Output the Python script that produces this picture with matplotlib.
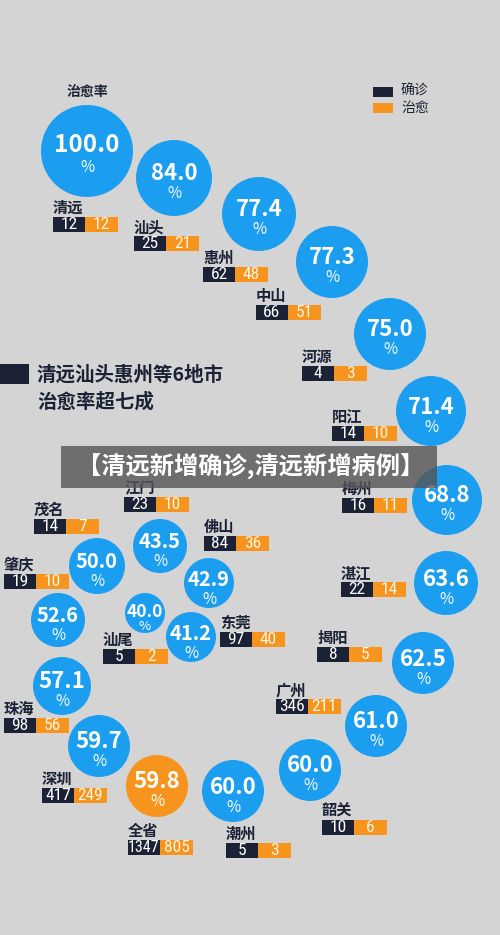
import matplotlib
matplotlib.use("Agg")
import matplotlib.pyplot as plt
from matplotlib import font_manager as fm
from matplotlib.patches import Circle, Rectangle

plt.rcParams['font.family'] = ['Noto Sans CJK SC', 'DejaVu Sans']

# ---------------- DATA ----------------
cities = ["清远", "汕头", "惠州", "中山", "河源", "阳江", "梅州", "湛江", "揭阳", "广州",
          "韶关", "潮州", "全省", "深圳", "珠海", "肇庆", "茂名", "江门", "佛山", "东莞", "汕尾"]
confirmed = [12, 25, 62, 66, 4, 14, 16, 22, 8, 346, 10, 5, 1347, 417, 98, 19, 14, 23, 84, 97, 5]
recovered = [12, 21, 48, 51, 3, 10, 11, 14, 5, 211, 6, 3, 805, 249, 56, 10, 7, 10, 36, 40, 2]
rates = [100.0, 84.0, 77.4, 77.3, 75.0, 71.4, 68.8, 63.6, 62.5, 61.0,
         60.0, 60.0, 59.8, 59.7, 57.1, 52.6, 50.0, 43.5, 42.9, 41.2, 40.0]

title_lines = ["清远汕头惠州等6地市", "治愈率超七成"]
banner_text = "【清远新增确诊,清远新增病例】"
legend_labels = ["确诊", "治愈"]

# ---------------- LAYOUT (pixels) ----------------
# circle centre x, y, radius
circles = [(87, 151, 46), (174, 178, 38), (259, 214, 37), (332, 262, 36), (390, 334, 36),
           (431, 411, 35), (447, 500, 35), (446, 583, 32), (423, 663, 31), (376, 726, 31),
           (310, 770, 31), (233, 791, 31), (157, 786, 31), (99, 746, 31), (62, 686, 29),
           (58, 620, 27), (97, 566, 28), (160, 546, 27), (209, 583, 25), (191, 637, 25),
           (145, 613, 20)]
# bar left x, top y
bars = [(53, 217), (134, 236), (203, 267), (256, 305), (302, 366), (332, 426), (342, 498),
        (341, 582), (317, 647), (276, 699), (322, 820), (226, 843), (128, 840), (42, 788),
        (4, 718), (4, 574), (34, 519), (124, 497), (204, 536), (220, 632), (103, 649)]

BG = "#d4d4d4"
BLUE = "#1c9ef0"
ORANGE = "#f7941d"
DARK = "#1b2235"

# narrow font for the numbers in the small bars, if one is installed
num_file = None
for f in fm.fontManager.ttflist:
    narrow = ("Narrow" in f.name or "Condensed" in f.name
              or str(f.stretch) in ("condensed", "semi-condensed", "extra-condensed"))
    if narrow and f.style == "normal" and "Mono" not in f.name and "Serif" not in f.name:
        if num_file is None or f.weight in (400, "normal", "regular"):
            num_file = f.fname


def num_font(size):
    if num_file:
        return fm.FontProperties(fname=num_file, size=size)
    return fm.FontProperties(family="Noto Sans CJK SC", size=size - 1.5)


def circle_font(r):
    if r >= 44:
        return 17.5
    if r >= 29:
        return 16
    if r >= 24:
        return 14.5
    return 12.5


fig = plt.figure(figsize=(5, 9.35), dpi=100)
fig.patch.set_facecolor(BG)
ax = fig.add_axes([0, 0, 1, 1])
ax.set_xlim(0, 500)
ax.set_ylim(935, 0)
ax.set_aspect("equal")
ax.axis("off")

for i, city in enumerate(cities):
    cx, cy, r = circles[i]
    color = ORANGE if city == "全省" else BLUE
    ax.add_patch(Circle((cx, cy), r, facecolor=color, edgecolor="none", zorder=2))
    fs = circle_font(r)
    dy = -6 if r >= 44 else (-1 if r < 24 else -4)
    ax.text(cx, cy + dy, f"{rates[i]:.1f}", color="white", fontsize=fs,
            fontweight="bold", ha="center", va="center", zorder=3)
    ax.text(cx, cy + (13 if r < 24 else 16), "%", color="white", fontsize=9.5 if r < 24 else 11,
            ha="center", va="center", zorder=3)

    bx, by = bars[i]
    ax.text(bx, by - 9, city, color=DARK, fontsize=11, fontweight="bold",
            ha="left", va="center", zorder=3)
    ax.add_patch(Rectangle((bx, by), 32, 15, facecolor=DARK, edgecolor="none", zorder=2))
    ax.add_patch(Rectangle((bx + 32, by), 33, 15, facecolor=ORANGE, edgecolor="none", zorder=2))
    for val, xc, col in ((confirmed[i], bx + 16, "white"), (recovered[i], bx + 48.5, "#fff6e6")):
        s = str(val)
        ax.text(xc, by + 7.5, s, color=col, fontproperties=num_font(12.5 if len(s) < 4 else 11.5),
                ha="center", va="center", zorder=3)

# header label
ax.text(87, 92, "治愈率", color=DARK, fontsize=10, fontweight="bold", ha="center", va="center")

# legend
ax.add_patch(Rectangle((373, 87), 20, 10, facecolor=DARK, edgecolor="none"))
ax.add_patch(Rectangle((373, 103), 20, 10, facecolor=ORANGE, edgecolor="none"))
ax.text(401, 91, legend_labels[0], color=DARK, fontsize=10, ha="left", va="center")
ax.text(401, 108, legend_labels[1], color=DARK, fontsize=10, ha="left", va="center")

# title block
ax.add_patch(Rectangle((0, 364), 29, 20, facecolor=DARK, edgecolor="none"))
ax.text(37, 375, title_lines[0], color=DARK, fontsize=14, fontweight="bold",
        ha="left", va="center")
ax.text(37, 402, title_lines[1], color=DARK, fontsize=14, fontweight="bold",
        ha="left", va="center")

# overlay banner
ax.add_patch(Rectangle((61, 446), 376, 42, facecolor="#555555", alpha=0.8,
                       edgecolor="none", zorder=5))
ax.text(251, 467, banner_text, color="white", fontsize=17.5, fontweight="bold",
        ha="center", va="center", zorder=6)

fig.savefig("out.png", dpi=100, facecolor=BG)
